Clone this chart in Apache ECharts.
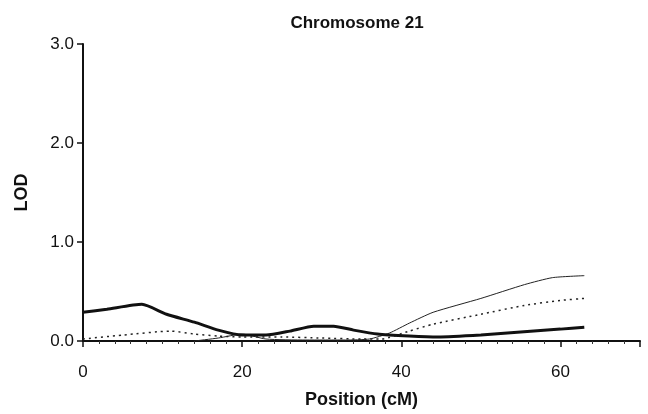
<!DOCTYPE html>
<html>
<head>
<meta charset="utf-8">
<script src="https://cdn.jsdelivr.net/npm/echarts@6/dist/echarts.min.js"></script>
<style>
  html, body { margin: 0; padding: 0; background: #fff; }
  #chart { width: 648px; height: 414px; }
</style>
</head>
<body>
<div id="chart"></div>
<script>
// positions (cM) and LOD values
const thickX = [0, 3, 7.4, 10.5, 14, 17, 20, 23, 26, 29, 31.5, 34, 37, 41, 44.6, 50, 55, 60, 63];
const thickY = [0.29, 0.32, 0.37, 0.27, 0.19, 0.11, 0.06, 0.06, 0.10, 0.15, 0.15, 0.11, 0.07, 0.05, 0.04, 0.06, 0.09, 0.12, 0.14];

const dotX = [0, 5, 11, 14, 17, 20, 25, 30, 35, 37.5, 41, 44, 50, 55.5, 60, 63];
const dotY = [0.02, 0.06, 0.10, 0.07, 0.05, 0.04, 0.04, 0.03, 0.02, 0.02, 0.10, 0.17, 0.27, 0.36, 0.41, 0.43];

const thinX = [14, 17, 20, 23, 28, 33, 36, 38.5, 41, 44, 50, 55.5, 59, 63];
const thinY = [0.0, 0.03, 0.07, 0.02, 0.01, 0.01, 0.02, 0.08, 0.18, 0.29, 0.43, 0.57, 0.64, 0.66];

const xTicks = [0, 20, 40, 60];

function pairs(xs, ys) {
  return xs.map((x, i) => [x, ys[i]]);
}

const chart = echarts.init(document.getElementById("chart"));
const font = "Liberation Sans, Arial, sans-serif";

chart.setOption({
  animation: false,
  title: {
    text: "Chromosome 21",
    left: 352,
    top: 10,
    textAlign: "center",
    textStyle: { fontFamily: font, fontSize: 17, fontWeight: "bold", color: "#111" },
  },
  grid: { left: 83, right: 8, top: 44, bottom: 70 },
  xAxis: {
    type: "value",
    min: 0,
    max: 70,
    interval: 20,
    name: "Position (cM)",
    nameLocation: "middle",
    nameGap: 50,
    nameTextStyle: { fontFamily: font, fontSize: 18, fontWeight: "bold", color: "#111" },
    splitLine: { show: false },
    axisLine: { lineStyle: { color: "#111", width: 2 } },
    axisTick: { length: 6, lineStyle: { color: "#111", width: 1.5 } },
    minorTick: { show: true, splitNumber: 10, length: 3, lineStyle: { color: "#333" } },
    axisLabel: {
      fontFamily: font,
      fontSize: 17,
      color: "#111",
      margin: 23,
      formatter: (v) => (xTicks.includes(v) ? String(v) : ""),
    },
  },
  yAxis: {
    type: "value",
    min: 0,
    max: 3,
    interval: 1,
    name: "LOD",
    nameLocation: "middle",
    nameGap: 52,
    nameTextStyle: { fontFamily: font, fontSize: 18, fontWeight: "bold", color: "#111" },
    splitLine: { show: false },
    axisLine: { show: true, lineStyle: { color: "#111", width: 2 } },
    axisTick: { show: true, length: 6, lineStyle: { color: "#111", width: 1.5 } },
    axisLabel: {
      fontFamily: font,
      fontSize: 17,
      color: "#111",
      margin: 9,
      formatter: (v) => v.toFixed(1),
    },
  },
  series: [
    {
      type: "line",
      data: pairs(thinX, thinY),
      symbol: "none",
      smooth: 0.2,
      lineStyle: { color: "#222", width: 1 },
    },
    {
      type: "line",
      data: pairs(dotX, dotY),
      symbol: "none",
      smooth: 0.2,
      lineStyle: { color: "#222", width: 1.5, type: [2, 4] },
    },
    {
      type: "line",
      data: pairs(thickX, thickY),
      symbol: "none",
      smooth: 0.2,
      lineStyle: { color: "#111", width: 3 },
    },
  ],
});
</script>
</body>
</html>
